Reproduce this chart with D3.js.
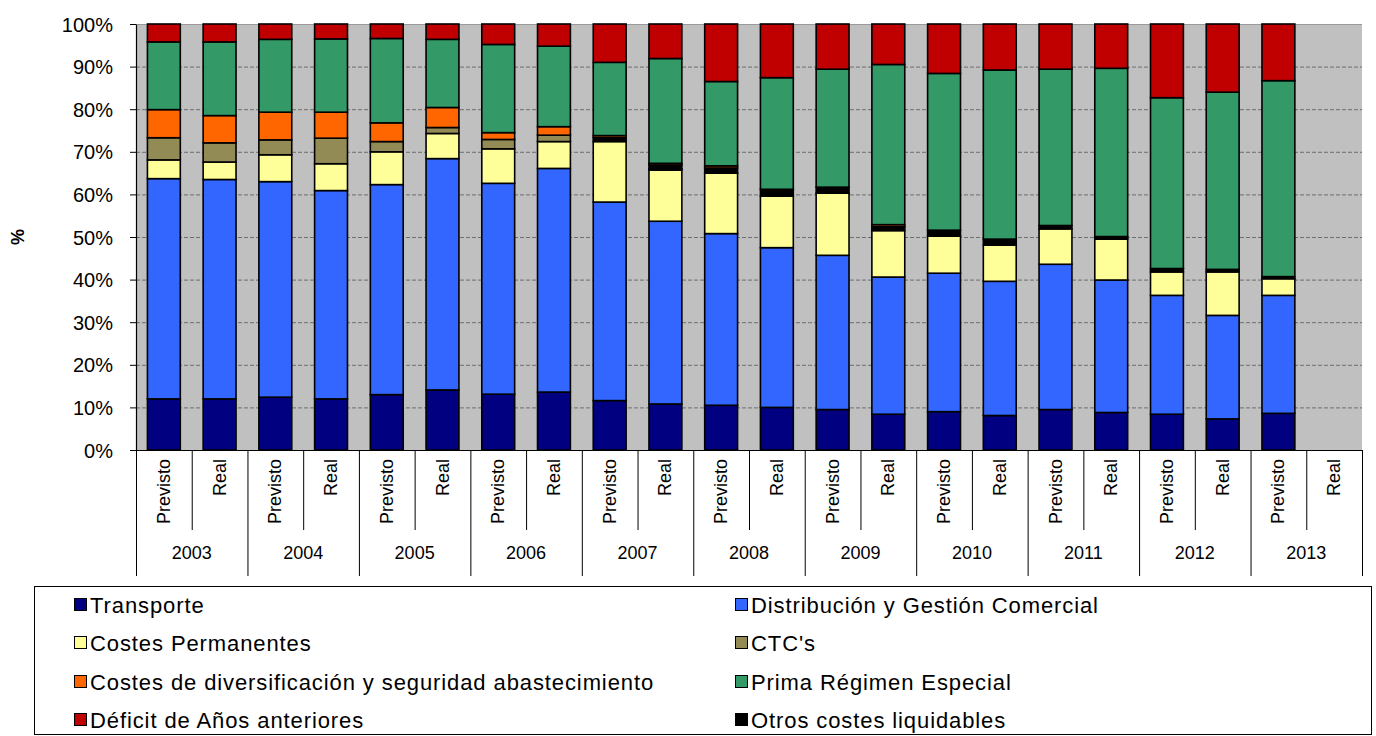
<!DOCTYPE html>
<html>
<head>
<meta charset="utf-8">
<script src="https://cdn.jsdelivr.net/npm/d3@7"></script>
<style>
  body { margin: 0; background: #fff; }
  svg { display: block; font-family: "Liberation Sans", Arial, sans-serif; }
</style>
</head>
<body>
<svg id="chart" width="1376" height="736"></svg>
<script>
// ---- Data ----
const years = ["2003","2004","2005","2006","2007","2008","2009","2010","2011","2012","2013"];
const kinds = ["Previsto","Real"];
const yTicks = ["0%","10%","20%","30%","40%","50%","60%","70%","80%","90%","100%"];

// values per bar: order 2003P, 2003R, 2004P, ... 2013P, 2013R (percent)
const transporte   = [12.0,12.0,12.4,12.0,13.0,14.1,13.1,13.6,11.6,10.8,10.5,10.0, 9.5, 8.4, 9.0, 8.1, 9.5, 8.8, 8.4, 7.3, 8.6,0];
const distribucion = [51.7,51.5,50.6,48.9,49.3,54.3,49.5,52.5,46.6,42.9,40.3,37.5,36.2,32.2,32.5,31.5,34.1,31.1,27.9,24.3,27.7,0];
const costesPerm   = [ 4.4, 4.1, 6.3, 6.3, 7.7, 5.9, 8.1, 6.3,14.2,12.0,14.2,12.1,14.6,10.9, 8.7, 8.5, 8.3, 9.6, 5.5,10.2, 3.9,0];
const ctcs         = [ 5.2, 4.5, 3.5, 6.0, 2.4, 1.4, 2.2, 1.5, 0.0, 0.3, 0.0, 0.0, 0.0, 0.0, 0.0, 0.0, 0.0, 0.0, 0.0, 0.0, 0.0,0];
const otros        = [ 0.0, 0.0, 0.0, 0.0, 0.0, 0.0, 0.0, 0.0, 0.9, 0.9, 1.2, 1.6, 1.4, 0.9, 1.4, 1.4, 0.8, 0.6, 0.8, 0.6, 0.5,0];
const diversif     = [ 6.6, 6.4, 6.5, 6.1, 4.4, 4.7, 1.6, 2.0, 0.5, 0.4, 0.5, 0.0, 0.0, 0.5, 0.0, 0.0, 0.0, 0.0, 0.0, 0.0, 0.0,0];
const prima        = [15.9,17.3,17.1,17.2,19.8,16.0,20.7,18.9,17.2,24.6,19.8,26.2,27.7,37.6,36.8,39.7,36.7,39.5,40.1,41.6,46.0,0];
const deficit      = [ 4.2, 4.2, 3.6, 3.5, 3.4, 3.6, 4.8, 5.2, 9.0, 8.1,13.5,12.6,10.6, 9.5,11.6,10.8,10.6,10.4,17.3,16.0,13.3,0];

const seriesNames = ["Transporte","Distribución y Gestión Comercial","Costes Permanentes","CTC's",
  "Costes de diversificación y seguridad abastecimiento","Prima Régimen Especial","Déficit de Años anteriores","Otros costes liquidables"];
const seriesColors = ["#000080","#3366FF","#FFFF99","#938B56","#FF6600","#339966","#C00000","#000000"];
const seriesValues = [transporte, distribucion, costesPerm, ctcs, diversif, prima, deficit, otros];
// visual stacking order (bottom to top), indexes into seriesNames
const stackOrder = [0,1,2,3,7,4,5,6];

// ---- Layout ----
const svg = d3.select("#chart");
const plot = {left: 136, right: 1362, top: 24, bottom: 450};

const barKeys = [];
years.forEach(y => kinds.forEach(k => barKeys.push(y + "|" + k)));
const rows = barKeys.map((key, i) => {
  const r = {key};
  seriesNames.forEach((n, s) => r[n] = seriesValues[s][i]);
  return r;
});

const x = d3.scaleBand().domain(barKeys).range([plot.left, plot.right]).padding(0);
const xYear = d3.scaleBand().domain(years).range([plot.left, plot.right]).padding(0);
const y = d3.scaleLinear().domain([0, 100]).range([plot.bottom, plot.top]);
const barFrac = 0.59;

// background
svg.append("rect").attr("x", plot.left).attr("y", plot.top)
  .attr("width", plot.right - plot.left).attr("height", plot.bottom - plot.top)
  .attr("fill", "#C0C0C0");

// gridlines
const tickVals = d3.range(0, 101, 10);
svg.append("g").selectAll("line").data(tickVals.filter(v => v > 0 && v < 100)).join("line")
  .attr("x1", plot.left).attr("x2", plot.right)
  .attr("y1", d => y(d) + 0.5).attr("y2", d => y(d) + 0.5)
  .attr("stroke", "#6e6e6e").attr("stroke-width", 1).attr("stroke-dasharray", "4,2");
svg.append("line").attr("x1", plot.left).attr("x2", plot.right)
  .attr("y1", plot.top + 0.5).attr("y2", plot.top + 0.5).attr("stroke", "#9a9a9a");

// stacked bars
const stack = d3.stack().keys(stackOrder.map(i => seriesNames[i]));
const stacked = stack(rows);
const bw = x.bandwidth() * barFrac;
stacked.forEach((layer, li) => {
  const sIdx = stackOrder[li];
  svg.append("g").selectAll("rect").data(layer).join("rect")
    .filter(d => d[1] - d[0] > 0)
    .attr("x", d => x(d.data.key) + (x.bandwidth() - bw) / 2)
    .attr("y", d => y(d[1]))
    .attr("width", bw)
    .attr("height", d => y(d[0]) - y(d[1]))
    .attr("fill", seriesColors[sIdx])
    .attr("stroke", "#000").attr("stroke-width", 1.6);
});

// y axis
const yAxis = d3.axisLeft(y).tickValues(tickVals).tickFormat((d, i) => yTicks[i]).tickSize(6).tickSizeOuter(0);
const gy = svg.append("g").attr("transform", `translate(${plot.left},0)`).call(yAxis);
gy.select(".domain").attr("stroke", "#000").attr("stroke-width", 1.2);
gy.selectAll(".tick line").attr("stroke", "#000");
gy.selectAll(".tick text").attr("font-size", 20).attr("fill", "#000").attr("x", -23).attr("dy", "0.35em")
  .style("font-family", "'Liberation Sans', Arial, sans-serif");

// y title
svg.append("text").attr("transform", `translate(24,${(plot.top + plot.bottom) / 2}) rotate(-90)`)
  .attr("text-anchor", "middle").attr("font-size", 18).attr("font-weight", "bold").text("%");

// x axis line
svg.append("line").attr("x1", plot.left).attr("x2", plot.right)
  .attr("y1", plot.bottom + 0.5).attr("y2", plot.bottom + 0.5).attr("stroke", "#000").attr("stroke-width", 1.2);

// separators: inner (Previsto|Real) and year boundaries
const gx = svg.append("g");
gx.selectAll("line.inner").data(years).join("line").attr("class", "inner")
  .attr("x1", d => xYear(d) + xYear.bandwidth() / 2 + 0.5).attr("x2", d => xYear(d) + xYear.bandwidth() / 2 + 0.5)
  .attr("y1", plot.bottom).attr("y2", 530).attr("stroke", "#000");
gx.selectAll("line.outer").data(years.concat(["end"])).join("line").attr("class", "outer")
  .attr("x1", d => (d === "end" ? plot.right : xYear(d)) + 0.5)
  .attr("x2", d => (d === "end" ? plot.right : xYear(d)) + 0.5)
  .attr("y1", plot.bottom).attr("y2", 576).attr("stroke", "#000");

// category labels
gx.selectAll("text.kind").data(barKeys).join("text").attr("class", "kind")
  .attr("transform", d => `translate(${x(d) + x.bandwidth() / 2 + 6},459) rotate(-90)`)
  .attr("text-anchor", "end").attr("font-size", 18).text(d => d.split("|")[1]);
gx.selectAll("text.year").data(years).join("text").attr("class", "year")
  .attr("x", d => xYear(d) + xYear.bandwidth() / 2).attr("y", 559)
  .attr("text-anchor", "middle").attr("font-size", 18).text(d => d);

// legend
const lg = svg.append("g");
lg.append("rect").attr("x", 34.5).attr("y", 586.5).attr("width", 1337).attr("height", 148)
  .attr("fill", "#fff").attr("stroke", "#000").attr("stroke-width", 1);
const legendCols = [74, 735];
const legendRowY = [605, 643, 682, 720];
seriesNames.forEach((n, i) => {
  const cx = legendCols[i % 2], cy = legendRowY[Math.floor(i / 2)];
  lg.append("rect").attr("x", cx + 0.5).attr("y", cy - 6.5).attr("width", 12).attr("height", 12)
    .attr("fill", seriesColors[i]).attr("stroke", "#000").attr("stroke-width", 1);
  lg.append("text").attr("x", cx + 16).attr("y", cy).attr("dy", "0.36em")
    .attr("font-size", 22).attr("letter-spacing", "0.9px").text(n);
});
</script>
</body>
</html>
